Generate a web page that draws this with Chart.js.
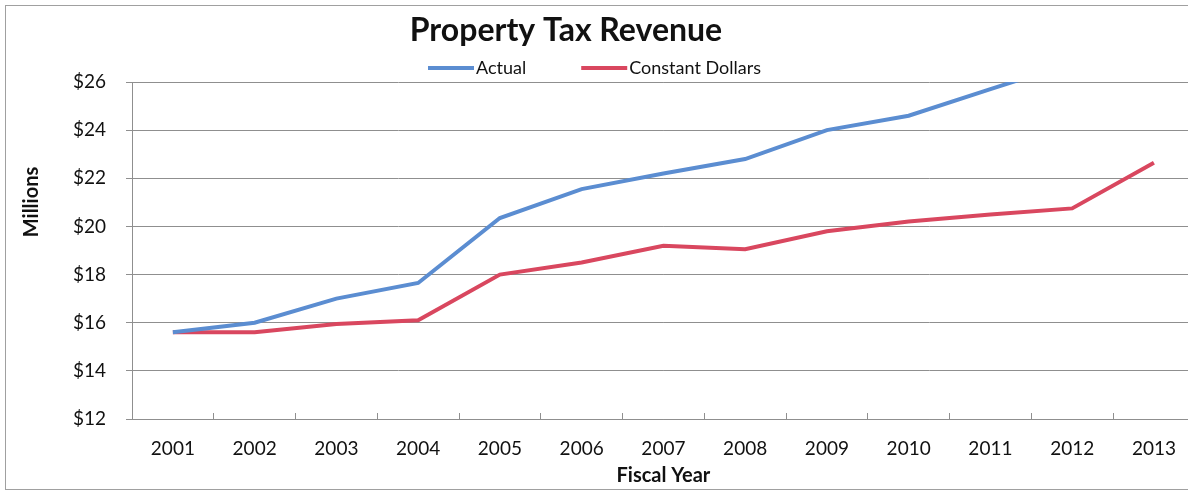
<!DOCTYPE html>
<html>
<head>
<meta charset="utf-8">
<title>Property Tax Revenue</title>
<script src="https://cdn.jsdelivr.net/npm/chart.js@4/dist/chart.umd.min.js"></script>
<style>
  html, body { margin:0; padding:0; background:#fff; overflow:hidden; }
  #wrap { position:relative; width:1200px; height:492px; }
</style>
</head>
<body>
<div id="wrap"><canvas id="taxChart"></canvas></div>
<script>

/* ===================================================== */
/* DATOS */
/* ===================================================== */

const years = ["2001","2002","2003","2004","2005","2006","2007",
               "2008","2009","2010","2011","2012","2013"];

// millions of dollars
const actual   = [15.6, 16.0, 17.0, 17.65, 20.35, 21.55, 22.2,
                  22.8, 24.0, 24.6, 25.7, 26.8, 27.9];

const constant = [15.6, 15.6, 15.95, 16.1, 18.0, 18.5, 19.2,
                  19.05, 19.8, 20.2, 20.5, 20.75, 22.65];

const yMin = 12;
const yMax = 26;
const yStep = 2;

const FONT = "Lato, 'Open Sans', sans-serif";
const GRID = '#8f8f8f';

/* ===================================================== */
/* TITULO, LEYENDA, MARCO */
/* ===================================================== */

const decorations = {
  id:'decorations',
  beforeDraw(chart){
    const ctx = chart.ctx;
    ctx.save();
    ctx.strokeStyle = '#a0a0a0';
    ctx.lineWidth = 1;
    ctx.strokeRect(5.5, 5.5, chart.width, 484);
    ctx.restore();
  },
  afterDraw(chart){
    const ctx = chart.ctx;
    ctx.save();

    // title
    ctx.fillStyle = '#111';
    ctx.font = "bold 32px " + FONT;
    ctx.textAlign = 'center';
    ctx.textBaseline = 'middle';
    ctx.fillText("Property Tax Revenue", 566, 31);

    // legend, built from the datasets
    ctx.font = "18px " + FONT;
    ctx.textAlign = 'left';
    let x = 428;
    chart.data.datasets.forEach((ds) => {
      ctx.strokeStyle = ds.borderColor;
      ctx.lineWidth = 4;
      ctx.beginPath();
      ctx.moveTo(x, 68);
      ctx.lineTo(x + 46, 68);
      ctx.stroke();
      ctx.fillStyle = '#111';
      ctx.fillText(ds.label, x + 48, 68);
      x += 48 + ctx.measureText(ds.label).width + 55;
    });

    // y axis title
    ctx.font = "bold 20px " + FONT;
    ctx.translate(32, 202);
    ctx.rotate(-Math.PI / 2);
    ctx.textAlign = 'center';
    ctx.fillText("Millions", 0, 0);

    ctx.restore();
  }
};

/* ===================================================== */
/* GRAFICA */
/* ===================================================== */

new Chart(
document.getElementById("taxChart"),
{
  type:'line',
  data:{
    labels:years,
    datasets:[
      {
        label:'Actual',
        data:actual,
        borderColor:'#5b8dd1',
        borderWidth:4,
        pointRadius:0,
        tension:0
      },
      {
        label:'Constant Dollars',
        data:constant,
        borderColor:'#d9475f',
        borderWidth:4,
        pointRadius:0,
        tension:0
      }
    ]
  },
  options:{
    responsive:true,
    maintainAspectRatio:false,
    animation:false,
    layout:{ padding:{ top:82, right:1, bottom:0, left:0 } },
    plugins:{
      legend:{ display:false },
      title:{ display:false },
      tooltip:{ enabled:false }
    },
    scales:{
      x:{
        offset:true,
        grid:{
          offset:true,
          drawOnChartArea:false,
          drawTicks:true,
          tickLength:-6,
          color:GRID
        },
        border:{ color:GRID, width:1 },
        ticks:{
          padding:24,
          color:'#111',
          font:{ family:FONT, size:19 }
        },
        title:{
          display:true,
          text:'Fiscal Year',
          color:'#111',
          font:{ family:FONT, size:20, weight:'bold' },
          padding:{ top:0, bottom:4 }
        },
        afterFit(scale){ scale.height = 73; }
      },
      y:{
        min:yMin,
        max:yMax,
        grid:{
          color:GRID,
          drawTicks:true,
          tickLength:6
        },
        border:{ color:GRID, width:1 },
        ticks:{
          stepSize:yStep,
          padding:20,
          color:'#111',
          font:{ family:FONT, size:19 },
          callback:(v) => '$' + v
        },
        afterFit(scale){ scale.width = 132; }
      }
    }
  },
  plugins:[decorations]
});

</script>
</body>
</html>
